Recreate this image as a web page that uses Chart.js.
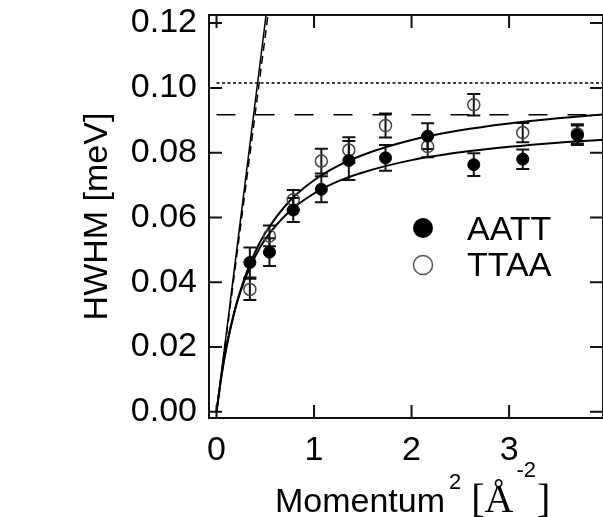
<!DOCTYPE html>
<html><head><meta charset="utf-8">
<script src="https://cdn.jsdelivr.net/npm/chart.js@4.4.0/dist/chart.umd.min.js"></script>
<style>html,body{margin:0;padding:0;background:#fff;overflow:hidden}</style>
</head><body>
<canvas id="c" width="603" height="517"></canvas>
<script>
// ---- data ----
const Q2 = [0.342, 0.543, 0.787, 1.075, 1.357, 1.733, 2.165, 2.638, 3.140, 3.700];
const AATT = [0.0461, 0.0493, 0.0623, 0.0687, 0.0776, 0.0784, 0.0851, 0.0763, 0.0780, 0.0854];
const AATT_ERR = [0.0046, 0.0043, 0.0037, 0.0040, 0.0060, 0.0040, 0.0040, 0.0035, 0.0030, 0.0030];
const TTAA = [0.0378, 0.0543, 0.0655, 0.0774, 0.0808, 0.0884, 0.0819, 0.0948, 0.0862, 0.0858];
const TTAA_ERR = [0.0033, 0.0032, 0.0030, 0.0038, 0.0040, 0.0037, 0.0033, 0.0033, 0.0030, 0.0030];

const FIT_X = [0, 0.05, 0.1, 0.2, 0.3, 0.4, 0.5, 0.75, 1.0, 1.25, 1.5, 2.0, 2.5, 3.0, 3.5, 3.96];
const FIT_UPPER = [0, 0.0108, 0.0195, 0.0328, 0.0423, 0.0496, 0.0552, 0.0651, 0.0715, 0.0760, 0.0793, 0.0839, 0.0869, 0.0890, 0.0906, 0.0918];
const FIT_LOWER = [0, 0.0112, 0.0199, 0.0327, 0.0416, 0.0482, 0.0533, 0.0619, 0.0674, 0.0712, 0.0739, 0.0777, 0.0801, 0.0818, 0.0831, 0.0840];

const STEEP_X = [0, 0.56];
const STEEP_SOLID = [0, 0.1350];
const STEEP_DASHED = [0, 0.1300];

const LIMIT_X = [0, 3.96];
const LIMIT_DOTTED = [0.1015, 0.1015];
const LIMIT_DASHED = [0.0917, 0.0917];

const X_TICKS = [0, 1, 2, 3];
const Y_TICKS = [0.00, 0.02, 0.04, 0.06, 0.08, 0.10, 0.12];
const LEGEND_LABELS = ['AATT', 'TTAA'];

const pts = (xs, ys) => xs.map((x, i) => ({x, y: ys[i]}));

const SANS = '"Liberation Sans", Arial, sans-serif';
const SERIF = '"Liberation Serif", "Times New Roman", serif';

const plugin = {
  id: 'deco',
  beforeDraw(chart) {
    const ctx = chart.ctx;
    ctx.save();
    ctx.fillStyle = '#fff';
    ctx.fillRect(0, 0, chart.width, chart.height);
    ctx.restore();
  },
  beforeDatasetsDraw(chart) {
    const {ctx, scales: {x, y}} = chart;
    ctx.save();
    ctx.strokeStyle = '#111';
    ctx.lineWidth = 2;
    const bars = (ys, es) => {
      Q2.forEach((q, i) => {
        const px = x.getPixelForValue(q);
        const t = y.getPixelForValue(ys[i] + es[i]);
        const b = y.getPixelForValue(ys[i] - es[i]);
        ctx.beginPath();
        ctx.moveTo(px, t); ctx.lineTo(px, b);
        ctx.moveTo(px - 6.5, t); ctx.lineTo(px + 6.5, t);
        ctx.moveTo(px - 6.5, b); ctx.lineTo(px + 6.5, b);
        ctx.stroke();
      });
    };
    bars(TTAA, TTAA_ERR);
    bars(AATT, AATT_ERR);
    ctx.restore();
  },
  afterDraw(chart) {
    const {ctx, chartArea: a, scales: {x, y}} = chart;
    ctx.save();
    // frame
    ctx.strokeStyle = '#111';
    ctx.lineWidth = 2;
    ctx.strokeRect(a.left, a.top, a.right - a.left, a.bottom - a.top);
    // inward ticks on all four sides
    const L = 13;
    ctx.beginPath();
    X_TICKS.forEach(v => {
      const px = x.getPixelForValue(v);
      ctx.moveTo(px, a.bottom); ctx.lineTo(px, a.bottom - L);
      ctx.moveTo(px, a.top); ctx.lineTo(px, a.top + L);
    });
    Y_TICKS.forEach(v => {
      const py = y.getPixelForValue(v);
      ctx.moveTo(a.left, py); ctx.lineTo(a.left + L, py);
      ctx.moveTo(a.right, py); ctx.lineTo(a.right - L, py);
    });
    ctx.stroke();

    // legend
    ctx.fillStyle = '#000';
    ctx.beginPath(); ctx.arc(423, 228, 10, 0, Math.PI * 2); ctx.fill();
    ctx.strokeStyle = '#555'; ctx.lineWidth = 1.5;
    ctx.beginPath(); ctx.arc(423, 265, 9.5, 0, Math.PI * 2); ctx.stroke();
    ctx.font = '34px ' + SANS;
    ctx.textBaseline = 'alphabetic';
    ctx.textAlign = 'left';
    ctx.fillText(LEGEND_LABELS[0], 467, 240);
    ctx.fillText(LEGEND_LABELS[1], 467, 276);

    // x-axis title: Momentum^2 [Å^-2]
    let cx = 275;
    const base = 512;
    ctx.font = '34px ' + SANS;
    ctx.fillText('Momentum', cx, base);
    cx += ctx.measureText('Momentum').width + 4;
    ctx.font = '22px ' + SANS;
    ctx.fillText('2', cx, base - 23);
    cx += ctx.measureText('2').width + 10;
    ctx.font = '40px ' + SERIF;
    ctx.fillText('[Å', cx, base);
    cx += ctx.measureText('[Å').width + 3;
    ctx.font = '22px ' + SANS;
    ctx.fillText('-2', cx, base - 35);
    cx += ctx.measureText('-2').width + 1;
    ctx.font = '40px ' + SERIF;
    ctx.fillText(']', cx, base);
    ctx.restore();
  }
};

const noPad = s => { s.paddingTop = 0; s.paddingBottom = 0; s.paddingLeft = 0; s.paddingRight = 0; };

new Chart(document.getElementById('c'), {
  type: 'scatter',
  data: {
    datasets: [
      {label: 'TTAA', data: pts(Q2, TTAA), pointRadius: 6, pointBorderWidth: 1.5,
       pointBorderColor: '#444', pointBackgroundColor: 'rgba(0,0,0,0)', showLine: false, order: 2},
      {label: 'AATT', data: pts(Q2, AATT), pointRadius: 6, pointBorderWidth: 1,
       pointBorderColor: '#000', pointBackgroundColor: '#000', showLine: false, order: 1},
      {label: 'fit upper', data: pts(FIT_X, FIT_UPPER), showLine: true, pointRadius: 0,
       borderColor: '#000', borderWidth: 2, cubicInterpolationMode: 'monotone', order: 3},
      {label: 'fit lower', data: pts(FIT_X, FIT_LOWER), showLine: true, pointRadius: 0,
       borderColor: '#000', borderWidth: 2, cubicInterpolationMode: 'monotone', order: 3},
      {label: 'steep solid', data: pts(STEEP_X, STEEP_SOLID), showLine: true, pointRadius: 0,
       borderColor: '#000', borderWidth: 1.5, order: 3},
      {label: 'steep dashed', data: pts(STEEP_X, STEEP_DASHED), showLine: true, pointRadius: 0,
       borderColor: '#000', borderWidth: 1.5, borderDash: [8, 5], order: 3},
      {label: 'limit dotted', data: pts(LIMIT_X, LIMIT_DOTTED), showLine: true, pointRadius: 0,
       borderColor: '#000', borderWidth: 1.5, borderDash: [3, 2.5], order: 3},
      {label: 'limit dashed', data: pts(LIMIT_X, LIMIT_DASHED), showLine: true, pointRadius: 0,
       borderColor: '#000', borderWidth: 1.5, borderDash: [19, 20], order: 3}
    ]
  },
  options: {
    responsive: false,
    animation: false,
    devicePixelRatio: 1,
    layout: {autoPadding: false, padding: {top: 15, right: -8, left: 0, bottom: 0}},
    plugins: {legend: {display: false}, tooltip: {enabled: false}},
    scales: {
      x: {
        type: 'linear', min: -0.077, max: 3.963,
        afterBuildTicks: s => { s.ticks = X_TICKS.map(v => ({value: v})); },
        afterFit: s => { s.height = 99; noPad(s); },
        grid: {display: false, drawTicks: false},
        border: {display: false},
        ticks: {color: '#000', font: {family: SANS, size: 34}, padding: 12,
                callback: v => String(v), maxRotation: 0, autoSkip: false}
      },
      y: {
        type: 'linear', min: -0.0019, max: 0.1225,
        afterBuildTicks: s => { s.ticks = Y_TICKS.map(v => ({value: v})); },
        afterFit: s => { s.width = 209; noPad(s); },
        grid: {display: false, drawTicks: false},
        border: {display: false},
        title: {display: true, text: 'HWHM [meV]', color: '#000', font: {family: SANS, size: 34}, padding: {top: 77, bottom: 0}},
        ticks: {color: '#000', font: {family: SANS, size: 34}, padding: 12,
                callback: v => Number(v).toFixed(2), autoSkip: false}
      }
    }
  },
  plugins: [plugin]
});
</script>
</body></html>
